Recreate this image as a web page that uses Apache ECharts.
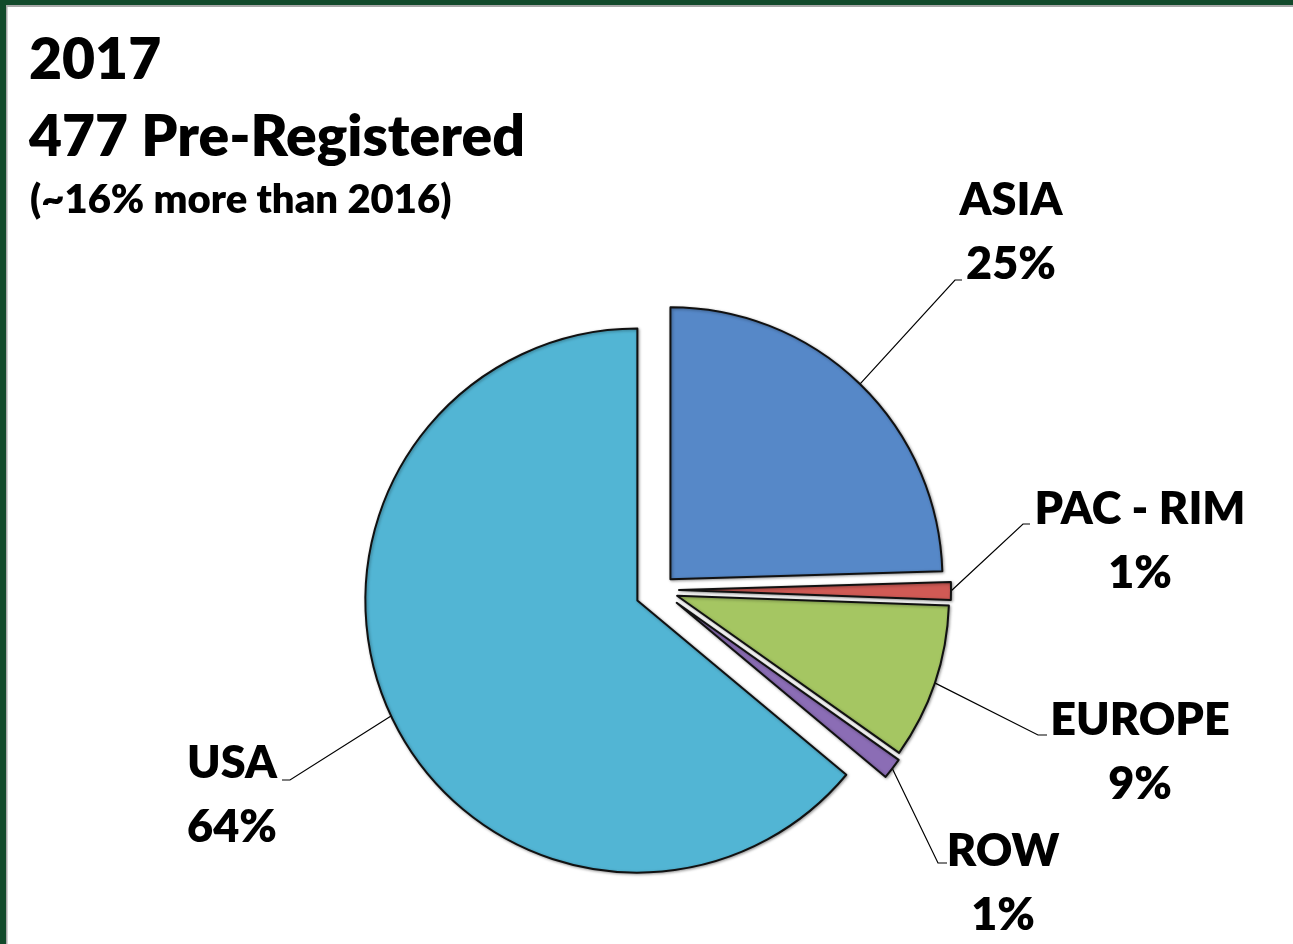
<!DOCTYPE html>
<html>
<head>
<meta charset="utf-8">
<style>
  html, body { margin: 0; padding: 0; background: #ffffff; }
  #chart { width: 1293px; height: 944px; }
</style>
<script src="https://cdn.jsdelivr.net/npm/echarts@6/dist/echarts.min.js"></script>
</head>
<body>
<div id="chart"></div>
<script>
// ---- data ----
const categories = ['ASIA', 'PAC - RIM', 'EUROPE', 'ROW', 'USA'];
const registrants = [117, 5, 44, 6, 305];

const titleLines = ['2017', '477 Pre-Registered', '(~16% more than 2016)'];

// ---- styles / layout ----
const sliceColors = ['#5688C8', '#D05A55', '#A5C662', '#8B6DB5', '#52B5D4'];
const explodePx = [15, 19, 18, 21, 25];
const pieCenter = [660, 590];
const pieRadius = 272;

const labelPlacement = [
  { cx: 1011, top: 168, elbow: [955, 280], end: [962, 280] },
  { cx: 1140, top: 477, elbow: [1023, 524], end: [1030, 524] },
  { cx: 1140, top: 688, elbow: [1038, 735], end: [1047, 735] },
  { cx: 1003, top: 819, elbow: [938, 863], end: [947, 863] },
  { cx: 232, top: 731, elbow: [290, 780], end: [282, 780] }
];

const FONT = 'Lato, "Open Sans", sans-serif';
const WEIGHT = 800;

const total = registrants.reduce((a, b) => a + b, 0);
let cum = 0;
const series = categories.map((name, i) => {
  const v = registrants[i];
  const mid = (-90 + 360 * (cum + v / 2) / total) * Math.PI / 180;
  cum += v;
  const center = [pieCenter[0] + explodePx[i] * Math.cos(mid),
                  pieCenter[1] + explodePx[i] * Math.sin(mid)];
  return {
    type: 'pie',
    center: center,
    radius: pieRadius,
    startAngle: 90,
    clockwise: true,
    percentPrecision: 0,
    avoidLabelOverlap: false,
    silent: true,
    emphasis: { disabled: true },
    data: categories.map((n, j) => ({
      name: n,
      value: registrants[j],
      itemStyle: j === i
        ? { color: sliceColors[j], borderColor: '#111', borderWidth: 2,
            shadowBlur: 3, shadowColor: 'rgba(0,0,0,0.35)', shadowOffsetX: 1, shadowOffsetY: 1 }
        : { color: 'rgba(0,0,0,0)', borderWidth: 0, shadowBlur: 0 },
      label: { show: j === i },
      labelLine: { show: j === i }
    })),
    label: {
      position: 'outside',
      formatter: '{b}\n{d}%',
      fontFamily: FONT,
      fontWeight: WEIGHT,
      fontSize: 45,
      lineHeight: 64,
      color: '#000',
      align: 'center'
    },
    labelLine: {
      length: 40, length2: 8,
      lineStyle: { color: '#000', width: 1.2 }
    },
    labelLayout: function (params) {
      const p = labelPlacement[params.dataIndex];
      const pts = params.labelLinePoints || [[0, 0]];
      return {
        x: p.cx, y: p.top,
        align: 'center', verticalAlign: 'top',
        labelLinePoints: [pts[0], p.elbow, p.end]
      };
    }
  };
});

const chart = echarts.init(document.getElementById('chart'));
chart.setOption({
  animation: false,
  backgroundColor: '#ffffff',
  title: [
    { text: titleLines[0], left: 29, top: 32, padding: 0,
      textStyle: { fontFamily: FONT, fontWeight: WEIGHT, fontSize: 57, lineHeight: 57, color: '#000' } },
    { text: titleLines[1], left: 29, top: 109, padding: 0,
      textStyle: { fontFamily: FONT, fontWeight: WEIGHT, fontSize: 57, lineHeight: 57, color: '#000' } },
    { text: titleLines[2], left: 30, top: 180, padding: 0,
      textStyle: { fontFamily: FONT, fontWeight: WEIGHT, fontSize: 40, lineHeight: 40, color: '#000' } }
  ],
  graphic: [
    { type: 'rect', left: 0, top: 0, shape: { width: 1293, height: 5 }, style: { fill: '#124a2b' }, silent: true },
    { type: 'rect', left: 0, top: 5, shape: { width: 1293, height: 2 }, style: { fill: '#a8a8a8' }, silent: true },
    { type: 'rect', left: 0, top: 0, shape: { width: 6, height: 944 }, style: { fill: '#124a2b' }, silent: true },
    { type: 'rect', left: 6, top: 5, shape: { width: 1.5, height: 939 }, style: { fill: '#a8a8a8' }, silent: true }
  ],
  series: series
});
</script>
</body>
</html>
